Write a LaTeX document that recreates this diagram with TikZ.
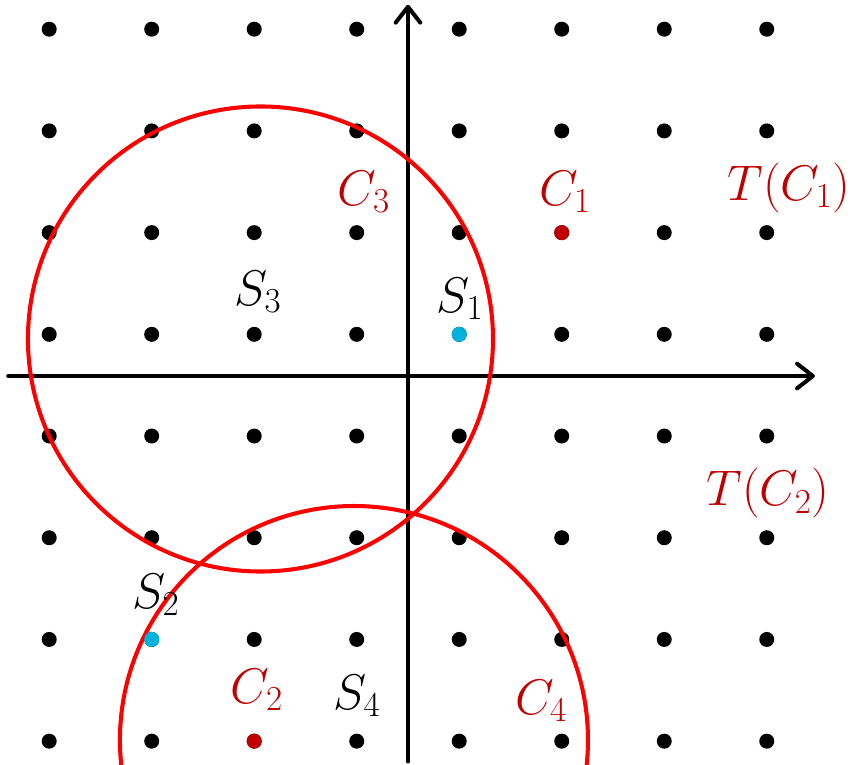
\RequirePackage{fix-cm}
\documentclass[tikz,border=0pt]{standalone}
\usepackage{amsmath}
\usetikzlibrary{arrows.meta}
\definecolor{ringred}{RGB}{255,0,0}
\definecolor{labred}{RGB}{192,0,0}
\definecolor{sitecyan}{RGB}{0,178,220}

\begin{document}
\begin{tikzpicture}[x=2.05cm,y=2.034cm,
  lbl/.style={inner sep=0pt,font=\fontsize{28.5}{32}\selectfont},
  ring/.style={ringred,line width=2.3pt},
  axis/.style={line width=2.3pt,line cap=round,
    -{Straight Barb[length=9pt,width=14pt,line cap=round,line join=round]}}]
  \clip (-3.98,-3.815) rectangle (4.351,3.697);
  \def\dotR{0.15cm}
  \def\yoff{0.41}
  % lattice points
  \foreach \i in {-3.5,-2.5,...,3.5}
    \foreach \k in {-4,...,3}
      \fill (\i,\k+\yoff) circle (\dotR);
  % axes
  \coordinate (xl) at (-3.90,0);
  \coordinate (xr) at (3.97,0);
  \coordinate (yb) at (0,-3.79);
  \coordinate (yt) at (0,3.65);
  \draw[axis] (xl) -- (xr);
  \draw[axis] (yb) -- (yt);
  % the two circles
  \draw[ring] (-1.439,0.364) circle (4.65cm);
  \draw[ring] (-0.527,-3.579) circle (4.68cm);
  % marked points
  \fill[sitecyan] (0.5,\yoff) circle (\dotR);
  \fill[sitecyan] (-2.5,-3+\yoff) circle (\dotR);
  \fill[labred] (1.5,1+\yoff) circle (\dotR);
  \fill[labred] (-1.5,-4+\yoff) circle (\dotR);
  % labels
  \node[lbl,labred] (cthree) at (-0.429,1.809) {$C_3$};
  \node[lbl,labred] (cone) at (1.532,1.809) {$C_1$};
  \node[lbl,labred] (tcone) at (3.717,1.849) {$T(C_1)$};
  \node[lbl] (sthree) at (-1.463,0.826) {$S_3$};
  \node[lbl] (sone) at (0.507,0.757) {$S_1$};
  \node[lbl,labred] (tctwo) at (3.512,-1.150) {$T(C_2)$};
  \node[lbl] (stwo) at (-2.459,-2.153) {$S_2$};
  \node[lbl,labred] (ctwo) at (-1.473,-3.088) {$C_2$};
  \node[lbl] (sfour) at (-0.498,-3.147) {$S_4$};
  \node[lbl,labred] (cfour) at (1.298,-3.196) {$C_4$};
\end{tikzpicture}
\end{document}
